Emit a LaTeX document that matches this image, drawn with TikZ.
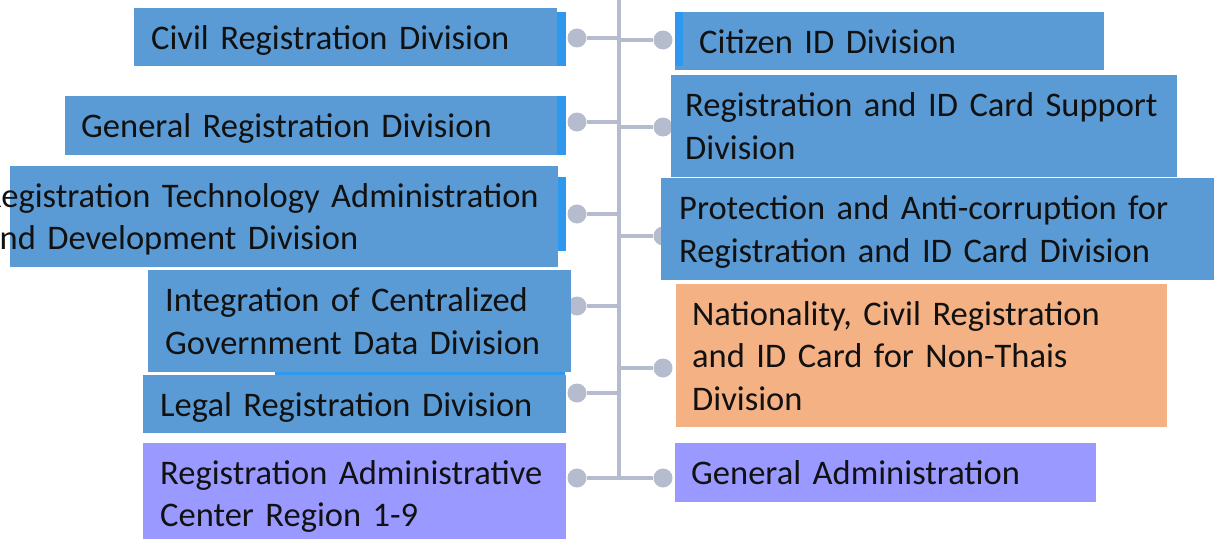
\documentclass[tikz,border=0pt]{standalone}
\usepackage{fontspec}
\setmainfont{Carlito}
\usetikzlibrary{backgrounds}
\definecolor{divblue}{HTML}{5B9BD5}
\definecolor{divedge}{HTML}{2E97EE}
\definecolor{divorange}{HTML}{F4B183}
\definecolor{divpurple}{HTML}{9999FF}
\definecolor{linkgray}{HTML}{B4BCCE}
\definecolor{divtext}{HTML}{111111}

\begin{document}
\begin{tikzpicture}[x=1pt, y=-1pt,
  divbox/.style={rectangle, anchor=north west, fill=#1, text=divtext,
    inner ysep=0pt, text depth=0pt, align=left,
    execute at begin node={\hyphenpenalty=10000},
    font=\fontsize{34.5}{42.5}\selectfont},
  twolines/.style={text depth=42.5pt},
  threelines/.style={text depth=85pt},
  link/.style={linkgray, line width=4pt},
  joint/.style={circle, fill=linkgray, inner sep=0pt, minimum size=19pt}]
  \useasboundingbox (0,0) rectangle (1214,538);
  % Left column
  \node[divbox=divblue, inner xsep=17pt, text width=389pt, minimum height=58pt]
    (civil) at (134,8) {Civil Registration Division};
  \node[divbox=divblue, inner xsep=16pt, text width=460pt, minimum height=59pt]
    (genreg) at (65,96) {General Registration Division};
  \node[divbox=divblue, twolines, inner xsep=-27pt, text width=602pt, minimum height=101pt]
    (regtech) at (10,166) {Registration Technology Administration\\and Development Division};
  \node[divbox=divblue, twolines, inner xsep=17pt, text width=389pt, minimum height=102pt]
    (integ) at (148,270) {Integration of Centralized\\Government Data Division};
  \node[divbox=divblue, inner xsep=17pt, text width=389pt, minimum height=58pt]
    (legal) at (143,375) {Legal Registration Division};
  \node[divbox=divpurple, twolines, inner xsep=17pt, text width=389pt, minimum height=101pt]
    (regadmin) at (143,443) {Registration Administrative\\Center Region 1-9};
  % Right column
  \node[divbox=divblue, inner xsep=24pt, text width=381pt, minimum height=58pt]
    (citizen) at (675,12) {Citizen ID Division};
  \node[divbox=divblue, twolines, inner xsep=14pt, text width=478pt, minimum height=102pt]
    (support) at (671,75) {Registration and ID Card Support\\Division};
  \node[divbox=divblue, twolines, inner xsep=18pt, text width=524pt, minimum height=102pt]
    (protect) at (661,178) {Protection and Anti-corruption for\\Registration and ID Card Division};
  \node[divbox=divorange, threelines, inner xsep=16pt, text width=459pt, minimum height=143pt]
    (nation) at (676,284) {Nationality, Civil Registration\\and ID Card for Non-Thais\\Division};
  \node[divbox=divpurple, inner xsep=16pt, text width=389pt, minimum height=59pt]
    (genadmin) at (675,443) {General Administration};
  % bright edges
  \fill[divedge] ([yshift=-4pt]civil.north east) rectangle ([xshift=9pt]civil.south east);
  \fill[divedge] (genreg.north east) rectangle ([xshift=9pt]genreg.south east);
  \fill[divedge] ([yshift=-11pt]regtech.north east) rectangle ([xshift=8pt,yshift=16pt]regtech.south east);
  \fill[divedge] (citizen.north west) rectangle ([xshift=8pt,yshift=4pt]citizen.south west);
  \fill[divedge] ([xshift=127pt]integ.south west) rectangle ([xshift=-6pt,yshift=-3pt]integ.south east);
  % Tree
  \begin{scope}[on background layer]
    \coordinate (top) at (619,0);
    \coordinate (bottom) at (619,478);
    \draw[link] (top) -- (bottom);
    \foreach \name/\y in {l1/38, l2/122, l3/214, l4/306, l5/393, l6/478} {
      \node[joint] (\name) at (577,\y) {};
      \draw[link] (\name) -- (\name -| top);
    }
    \foreach \name/\y in {r1/40, r2/127, r3/236, r4/368, r5/478} {
      \node[joint] (\name) at (663,\y) {};
      \draw[link] (\name) -- (\name -| top);
    }
  \end{scope}
\end{tikzpicture}
\end{document}
